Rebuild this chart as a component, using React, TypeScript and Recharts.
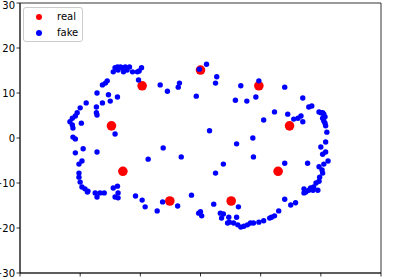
import React from "react";
import { ScatterChart, Scatter, XAxis, YAxis, Legend, ReferenceArea } from "recharts";

const axisTicks = [-30, -20, -10, 0, 10, 20, 30];

const seriesNames = ["real", "fake"];
const seriesColors = ["#ff0000", "#0000ff"];

const realX = [0, 9.7, 14.8, 12.9, 5.1, -5.1, -12.9, -14.8, -9.7];
const realY = [15.1, 11.6, 2.7, -7.4, -14.0, -14.0, -7.4, 2.7, 11.6];

const fakePoints: [number, number][] = [
  [-14.5, 14.7], [-14.2, 15.6], [-13.8, 15.8], [-13.7, 15.1], [-13.3, 15.8], [-13.0, 15.6],
  [-12.8, 14.7], [-12.5, 15.8], [-12.2, 15.1], [-11.8, 15.8], [-11.3, 14.7], [-10.5, 14.7],
  [-10.2, 14.9], [-9.8, 15.6], [-10.3, 12.9], [-16.3, 11.8], [-15.8, 12.2], [-15.5, 12.7],
  [-17.2, 10.0], [-15.3, 9.6], [-13.8, 9.1], [-6.7, 11.8], [-5.5, 10.4], [-3.5, 12.2],
  [-3.7, 11.3], [-0.7, 9.3], [-0.2, 15.3], [1.0, 16.4], [2.7, 13.6], [2.5, 12.2],
  [6.7, 11.6], [9.7, 12.7], [9.2, 9.1], [5.8, 8.4], [7.7, 8.2], [14.0, 11.3],
  [17.0, 8.9], [10.5, 4.0], [1.5, 1.6], [-6.2, -2.2], [-8.7, -4.7], [-3.2, -4.2],
  [6.0, -1.3], [8.7, 0.0], [8.8, -4.2], [3.8, -5.8], [2.5, -7.8],
  [18.0, 6.9], [18.5, 7.1], [12.3, 5.8], [14.5, 5.3], [15.5, 4.2], [16.2, 4.4],
  [16.7, 4.9], [17.0, 3.6], [19.7, 5.8], [20.0, 5.6], [20.3, 5.6], [20.5, 5.3],
  [20.7, 4.7], [20.3, 4.4], [20.5, 3.8], [20.7, 3.3], [20.8, 2.7], [21.0, 1.3],
  [20.8, -0.9], [20.0, -2.0], [20.8, -3.1], [20.3, -3.6], [21.2, -5.1], [20.5, -5.8],
  [17.8, -5.6], [14.0, -5.6], [19.7, -6.4], [20.2, -7.1], [20.3, -7.8], [19.8, -8.7],
  [19.7, -9.6], [19.2, -10.0], [18.8, -10.9], [18.3, -11.1], [17.2, -11.3],
  [-19.0, 7.8], [-17.3, 6.9], [-16.3, 7.8], [-15.0, 8.2], [-20.0, 6.7], [-20.5, 5.6],
  [-20.8, 4.9], [-21.3, 4.4], [-21.7, 3.6], [-21.3, 2.9], [-21.2, 2.2], [-19.8, 3.3],
  [-17.3, 5.6], [-17.2, 5.1], [-21.2, 0.2], [-20.8, -0.2], [-14.2, 0.9], [-20.8, -3.3],
  [-19.5, -2.4], [-17.2, -3.1], [-19.7, -5.1], [-20.2, -5.8], [-20.2, -7.8], [-20.2, -8.7],
  [-20.0, -9.8], [-19.7, -10.9], [-19.2, -11.3], [-18.7, -11.8], [-17.5, -12.2], [-16.7, -12.2],
  [-16.0, -12.2], [-17.2, -13.1], [-14.5, -11.1], [-13.8, -10.7], [-13.7, -12.2], [-14.2, -13.1],
  [-18.8, -12.0], [-13.7, -13.3],
  [-10.8, -12.9], [-9.7, -13.8], [-9.2, -15.3], [-7.2, -16.2], [-6.3, -14.2], [-3.8, -15.1],
  [-1.5, -12.7], [-0.3, -16.7], [0.2, -17.3], [0.0, -16.4], [2.2, -14.7], [3.3, -16.7],
  [3.8, -16.9], [3.5, -17.8], [4.7, -17.6], [6.0, -17.6], [6.3, -15.3], [4.5, -18.9],
  [4.8, -18.7], [5.5, -18.9], [6.2, -19.3], [6.7, -19.8], [7.2, -19.6], [7.8, -19.3],
  [8.3, -18.9], [8.8, -18.9], [9.7, -18.7], [10.5, -18.4], [11.5, -17.8], [11.8, -17.6],
  [12.3, -17.3], [13.0, -16.2], [14.0, -13.6], [15.0, -14.9], [15.8, -14.4], [17.2, -12.2],
  [17.5, -12.0], [18.0, -11.6], [18.7, -11.6], [19.5, -11.6],
];

const realData = realX.map((x, i) => ({ x, y: realY[i] }));
const fakeData = fakePoints.map(([x, y]) => ({ x, y }));

const FONT = "DejaVu Sans, sans-serif";

const fmt = (v: number) => (v < 0 ? "\u2212" + Math.abs(v) : String(v));

const dot = (r: number, color: string) => (props: any) =>
  <circle cx={props.cx} cy={props.cy} r={r} fill={color} />;

const LegendBox = () => (
  <div
    style={{
      width: 60,
      height: 35,
      background: "rgba(255,255,255,0.8)",
      border: "1px solid #cccccc",
      borderRadius: 3,
      boxSizing: "border-box",
      fontFamily: FONT,
      fontSize: 10,
      color: "#000",
      position: "relative",
    }}
  >
    {seriesNames.map((name, i) => (
      <div key={name} style={{ position: "absolute", left: 0, top: 2 + i * 16, height: 14, width: 60 }}>
        <span
          style={{
            position: "absolute",
            left: 12,
            top: 4,
            width: 6,
            height: 6,
            borderRadius: 3,
            background: seriesColors[i],
          }}
        />
        <span style={{ position: "absolute", left: 33, top: 0, lineHeight: "13px" }}>{name}</span>
      </div>
    ))}
  </div>
);

export default function App() {
  return (
    <div style={{ position: "fixed", left: 0, top: 0, width: 395, height: 279, overflow: "hidden", background: "#fff" }}>
      <div style={{ position: "absolute", left: -30, top: 0 }}>
        <ScatterChart width={420} height={303} margin={{ top: 3, right: 9, left: 0, bottom: 0 }}>
          <XAxis
            type="number"
            dataKey="x"
            domain={[-30, 30]}
            ticks={axisTicks}
            tickFormatter={fmt}
            height={30}
            tickSize={3.5}
            tickMargin={10}
            stroke="#000"
            tick={{ fill: "#000", fontSize: 10, fontFamily: FONT }}
            axisLine={{ stroke: "#000", strokeWidth: 0.8 }}
            tickLine={{ stroke: "#000", strokeWidth: 0.8 }}
            allowDataOverflow
          />
          <YAxis
            type="number"
            dataKey="y"
            domain={[-30, 30]}
            ticks={axisTicks}
            tickFormatter={fmt}
            width={50}
            tickSize={3.5}
            tickMargin={1.5}
            stroke="#000"
            tick={{ fill: "#000", fontSize: 10, fontFamily: FONT }}
            axisLine={{ stroke: "#000", strokeWidth: 0.8 }}
            tickLine={{ stroke: "#000", strokeWidth: 0.8 }}
            allowDataOverflow
          />
          <ReferenceArea x1={-30} x2={30} y1={-30} y2={30} fill="none" stroke="#000" strokeWidth={0.8} />
          <Scatter name={seriesNames[0]} data={realData} fill={seriesColors[0]} shape={dot(4.8, seriesColors[0])} isAnimationActive={false} />
          <Scatter name={seriesNames[1]} data={fakeData} fill={seriesColors[1]} shape={dot(2.7, seriesColors[1])} isAnimationActive={false} />
          <Legend
            layout="vertical"
            align="center"
            verticalAlign="middle"
            wrapperStyle={{ left: 53, top: 7, width: 60, height: 35 }}
            content={LegendBox}
          />
        </ScatterChart>
      </div>
    </div>
  );
}
